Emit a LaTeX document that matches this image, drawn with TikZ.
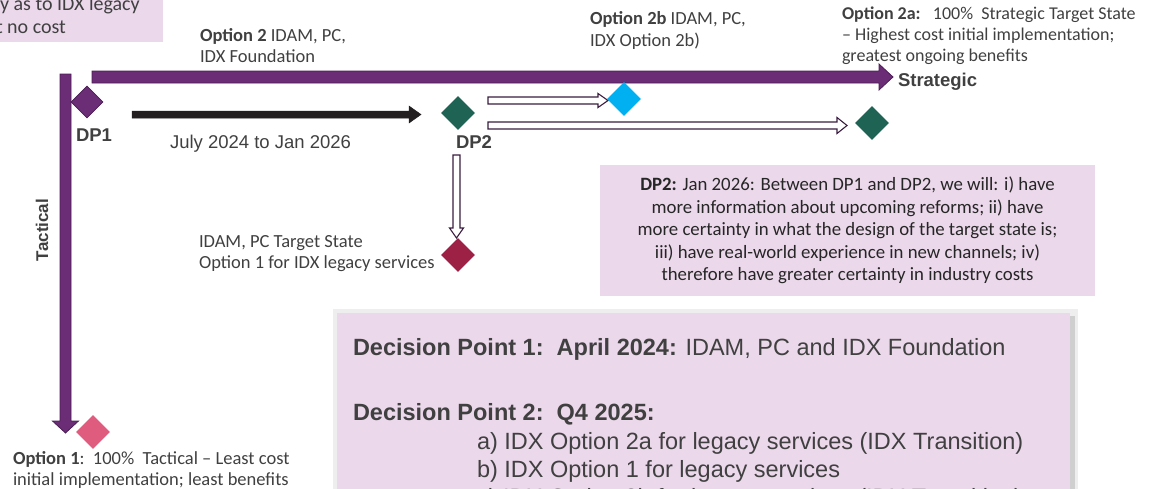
\documentclass[tikz,border=0pt]{standalone}
\usepackage{fontspec}
\setmainfont{Carlito}
\newfontfamily\arialfont{Liberation Sans}
\usetikzlibrary{shapes.geometric,calc}
\definecolor{optpurple}{HTML}{6B2D76}
\definecolor{optpurpleedge}{HTML}{4B1E55}
\definecolor{notepink}{HTML}{EBD8EA}
\definecolor{txtgray}{HTML}{404040}
\definecolor{darktext}{HTML}{262626}
\definecolor{dpgreen}{HTML}{1F6354}
\definecolor{optblue}{HTML}{00B0F0}
\definecolor{optcrimson}{HTML}{9D2045}
\definecolor{optpink}{HTML}{E05C7E}
\definecolor{hollowedge}{HTML}{3A1D40}
\definecolor{timeblack}{HTML}{231F20}
\definecolor{shadowlight}{HTML}{EEEEEE}
\definecolor{shadowdark}{HTML}{CFCFCF}
\newcommand{\blockarrowh}[6]{\draw[#1] let \p1=(#2), \p2=(#3) in (\x1,\y1+#4pt) -- (\x2-#6pt,\y1+#4pt) -- (\x2-#6pt,\y1+#5pt) -- (\x2,\y1) -- (\x2-#6pt,\y1-#5pt) -- (\x2-#6pt,\y1-#4pt) -- (\x1,\y1-#4pt) -- cycle;}
\newcommand{\blockarrowv}[6]{\draw[#1] let \p1=(#2), \p2=(#3) in (\x1-#4pt,\y1) -- (\x1-#4pt,\y2+#6pt) -- (\x1-#5pt,\y2+#6pt) -- (\x1,\y2) -- (\x1+#5pt,\y2+#6pt) -- (\x1+#4pt,\y2+#6pt) -- (\x1+#4pt,\y1) -- cycle;}
\begin{document}
\begin{tikzpicture}[x=1pt,y=-1pt,
  txt/.style={inner sep=0, outer sep=0, text=txtgray, font=\fontsize{18.5}{21.5}\selectfont},
  mtxt/.style={txt, align=left, anchor=north west},
  dplbl/.style={inner sep=0, outer sep=0, text=txtgray, font=\arialfont\bfseries\fontsize{18.5}{22}\selectfont},
  datelbl/.style={inner sep=0, outer sep=0, text=txtgray, font=\arialfont\fontsize{18.5}{22}\selectfont},
  bigtxt/.style={inner sep=0, outer sep=0, text=txtgray, font=\arialfont\fontsize{23.5}{28}\selectfont, anchor=base west},
  notebox/.style={rectangle, fill=notepink, draw=none, inner sep=0},
  gem/.style={diamond, inner sep=0, minimum width=34, minimum height=34, aspect=1, draw=none},
  purplearrow/.style={fill=optpurple, draw=optpurpleedge, line width=0.8},
  blackarrow/.style={fill=timeblack, draw=timeblack, line width=0.5},
  hollowarrow/.style={fill=white, draw=hollowedge, line width=1.1}
]
\useasboundingbox (0,0) rectangle (1150,488);
\clip (0,0) rectangle (1150,488);

% top-left note (cut off)
\node[notebox, minimum width=200, minimum height=70, anchor=south east] (legacynote) at (163,42.5) {};
\node[txt, anchor=base west, font=\fontsize{20}{23}\selectfont] (legacyline1) at (0,10) {y as to IDX legacy};
\node[txt, anchor=base west, font=\fontsize{20}{23}\selectfont] (legacyline2) at (-4,33) {t no cost};

% coordinates of the arrows
\coordinate (stratstart) at (92,77);
\coordinate (stratend) at (893,77);
\coordinate (tacstart) at (65.5,74);
\coordinate (tacend) at (65.5,433);
\coordinate (timestart) at (132,114.5);
\coordinate (timeend) at (421,114.5);
\coordinate (bstart) at (488,100.5);
\coordinate (bend) at (608,100.5);
\coordinate (astart) at (488,125.5);
\coordinate (aend) at (847,125.5);
\coordinate (lstart) at (456.5,155);
\coordinate (lend) at (456.5,238);

\blockarrowh{purplearrow}{stratstart}{stratend}{6}{13}{14}
\blockarrowv{purplearrow}{tacstart}{tacend}{5.5}{13}{12}
\blockarrowh{blackarrow}{timestart}{timeend}{3.5}{8.5}{12}
\blockarrowh{hollowarrow}{bstart}{bend}{3.5}{7}{10}
\blockarrowh{hollowarrow}{astart}{aend}{3.5}{8}{10}
\blockarrowv{hollowarrow}{lstart}{lend}{3.5}{7}{10}

% diamonds
\node[gem, fill=optpurple, draw=optpurpleedge, line width=0.8, minimum width=32, minimum height=32] (dp1) at (87,102) {};
\node[gem, fill=dpgreen] (dp2) at (458,113) {};
\node[gem, fill=optblue] (opt2b) at (624,99) {};
\node[gem, fill=dpgreen] (opt2a) at (872,123) {};
\node[gem, fill=optcrimson] (opt1legacy) at (458,255) {};
\node[gem, fill=optpink] (opt1) at (93,432) {};

% labels
\node[dplbl, anchor=base west] (dp1lbl) at (76,141) {DP1};
\node[dplbl, anchor=base west] (dp2lbl) at (456,148) {DP2};
\node[dplbl, anchor=base west] (stratlbl) at (898,86) {Strategic};
\node[dplbl, rotate=90, font=\arialfont\bfseries\fontsize{17}{20}\selectfont] (taclbl) at (42,230) {Tactical};
\node[datelbl, anchor=base west] (datelbl) at (170,148) {July 2024 to Jan 2026};

\node[mtxt] (opt2lbl) at (200,28) {\textbf{Option 2} IDAM, PC,\\IDX Foundation};
\node[mtxt] (opt2blbl) at (590,11.5) {\textbf{Option 2b} IDAM, PC,\\IDX Option 2b)};
\node[mtxt, font=\fontsize{18}{21}\selectfont] (opt2albl) at (842,7) {\textbf{Option 2a:}\ \ \ 100\%\ \ Strategic Target State\\– Highest cost initial implementation;\\greatest ongoing benefits};
\node[mtxt] (opt1leglbl) at (199,235) {IDAM, PC Target State\\Option 1 for IDX legacy services};
\node[mtxt] (opt1lbl) at (13,451) {\textbf{Option 1}:\ \ 100\%\ \ Tactical – Least cost\\initial implementation; least benefits};

% DP2 note
\node[notebox, minimum width=495, minimum height=131, align=center, text=darktext, font=\fontsize{18.8}{22.5}\selectfont] (dp2note) at (847.5,230.5) {\textbf{DP2:} Jan 2026: Between DP1 and DP2, we will: i) have\\more information about upcoming reforms; ii) have\\more certainty in what the design of the target state is;\\iii) have real-world experience in new channels; iv)\\therefore have greater certainty in industry costs};

% decision box (cut off)
\fill[shadowlight] (333,309) rectangle (1078,500);
\fill[shadowdark] (1069,316) rectangle (1075,500);
\node[notebox, anchor=north west, minimum width=733, minimum height=200] (decisionbox) at (337,313) {};
\node[bigtxt] (dec1) at (353,355) {\textbf{Decision Point 1:\ \ April 2024:} IDAM, PC and IDX Foundation};
\node[bigtxt] (dec2) at (353,420) {\textbf{Decision Point 2:\ \ Q4 2025:}};
\node[bigtxt] (deca) at (477,449) {a) IDX Option 2a for legacy services (IDX Transition)};
\node[bigtxt] (decb) at (477,477) {b) IDX Option 1 for legacy services};
\node[bigtxt] (decc) at (477,505) {c) IDX Option 2b for legacy services (IDX Transition)};
\end{tikzpicture}
\end{document}
